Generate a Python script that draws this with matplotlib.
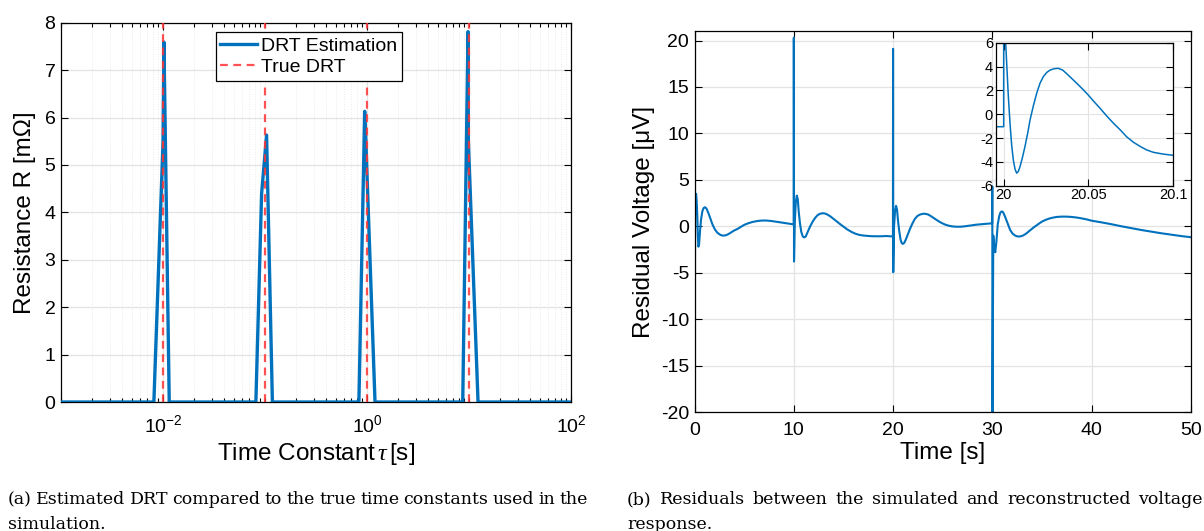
import matplotlib
matplotlib.use("Agg")
import matplotlib.pyplot as plt
from matplotlib.ticker import LogLocator, NullFormatter

plt.rcParams['font.family'] = ['Liberation Sans', 'DejaVu Sans']
plt.rcParams['mathtext.fontset'] = 'custom'
plt.rcParams['mathtext.rm'] = 'Liberation Sans'
plt.rcParams['mathtext.it'] = 'Liberation Serif:italic'
plt.rcParams['axes.unicode_minus'] = False

# DRT estimate (time constant in s, resistance in mOhm)
drt_tau = [1e-3, 0.00813, 0.0100, 0.0102, 0.0115,
           0.0813, 0.0925, 0.1035, 0.118,
           0.832, 0.948, 0.977, 1.197,
           8.67, 9.77, 9.85, 12.25, 100]
drt_r = [0, 0, 5.5, 7.59, 0,
         0, 4.39, 5.63, 0,
         0, 6.13, 5.4, 0,
         0, 7.81, 5.5, 0, 0]
true_tau = [0.01, 0.1, 1, 10]

# residual voltage (time in s, residual in uV)
res_t = [0.0, 0.01, 0.05, 0.1, 0.15, 0.2, 0.27, 0.33, 0.38, 0.45, 0.55, 0.65, 0.78, 0.9, 1.05,
         1.2, 1.4, 1.6, 1.8, 2.05, 2.3, 2.6, 2.8, 3.0, 3.2, 3.4, 3.7, 4.0, 4.3, 4.7, 5.0,
         5.4, 5.8, 6.2, 6.6, 7.0, 7.3, 7.7, 8.0, 8.4, 8.8, 9.2, 9.5, 9.99,
         10.0, 10.02, 10.1, 10.2, 10.3, 10.4, 10.5, 10.62, 10.75, 10.9, 11.05, 11.2, 11.4, 11.65,
         11.9, 12.15, 12.4, 12.65, 12.9, 13.15, 13.4, 13.7, 14.0, 14.35, 14.7, 15.05,
         15.4, 15.8, 16.2, 16.6, 17.0, 17.4, 17.8, 18.2, 18.6, 19.0, 19.3, 19.65, 19.99,
         20.0, 20.02, 20.1, 20.2, 20.3, 20.4, 20.5, 20.62, 20.75, 20.87, 20.98, 21.12, 21.3,
         21.5, 21.7, 21.95, 22.2, 22.45, 22.7, 22.95, 23.2, 23.5, 23.8, 24.15, 24.5, 24.85,
         25.2, 25.6, 26.0, 26.4, 26.8, 27.2, 27.6, 28.0, 28.4, 28.8, 29.2, 29.6, 29.99,
         30.0, 30.02, 30.1, 30.2, 30.3, 30.42, 30.55, 30.7, 30.83, 30.96, 31.1, 31.3, 31.55,
         31.8, 32.05, 32.3, 32.55, 32.8, 33.1, 33.4, 33.8, 34.2, 34.6, 35.0, 35.4, 35.8,
         36.2, 36.5, 36.85, 37.2, 37.6, 38.0, 38.5, 39.0, 39.5, 40.0, 41.0, 42.0, 43.0, 44.0,
         45.0, 46.0, 47.0, 48.0, 49.0, 50.0]
res_v = [5.0, -20.0, 1.0, 2.8, 3.5, 2.9, 1.2, -1.0, -2.2, -2.0, -0.5, 0.7, 1.6, 1.95, 2.05,
         1.9, 1.4, 0.8, 0.2, -0.35, -0.7, -0.93, -1.0, -1.0, -0.95, -0.85, -0.65, -0.45,
         -0.3, -0.05, 0.15,
         0.32, 0.45, 0.54, 0.6, 0.62, 0.61, 0.57, 0.52, 0.46, 0.4, 0.33, 0.28, 0.2,
         20.3, -3.8, 0.5, 2.6, 3.3, 2.9, 1.5, 0.3, -0.6, -1.1, -1.2, -1.1, -0.6, 0.0,
         0.5, 0.9, 1.2, 1.35, 1.4, 1.37, 1.25, 1.05, 0.8, 0.5, 0.2, -0.08,
         -0.35, -0.6, -0.8, -0.93, -1.0, -1.04, -1.07, -1.08, -1.08, -1.07, -1.05, -1.07, -1.1,
         19.1, -4.95, 0.0, 1.6, 2.2, 1.8, 0.6, -0.5, -1.4, -1.8, -1.9, -1.8, -1.4,
         -0.85, -0.3, 0.3, 0.8, 1.1, 1.25, 1.33, 1.35, 1.28, 1.1, 0.85, 0.6, 0.38,
         0.2, 0.06, -0.02, -0.05, -0.05, -0.01, 0.05, 0.11, 0.17, 0.21, 0.25, 0.29, 0.32,
         4.3, -20.0, -1.0, -2.2, -2.8, -1.6, 0.2, 1.1, 1.5, 1.6, 1.5, 1.0, 0.3,
         -0.4, -0.8, -1.0, -1.1, -1.1, -1.0, -0.8, -0.45, -0.1, 0.2, 0.5, 0.7, 0.85,
         0.95, 1.0, 1.03, 1.04, 1.03, 1.0, 0.94, 0.85, 0.74, 0.6, 0.42, 0.22, 0.0, -0.2,
         -0.4, -0.58, -0.75, -0.9, -1.05, -1.18]

# zoom around t = 20 s
zoom_t = [19.995, 20.0, 20.0, 20.0003, 20.00118, 20.00177, 20.00276, 20.00374, 20.00472,
          20.00571, 20.00669, 20.00768, 20.00866, 20.00965, 20.01122, 20.0126, 20.01417,
          20.01555, 20.01752, 20.01949, 20.02146, 20.02343, 20.0254, 20.02736, 20.02992,
          20.03228, 20.03484, 20.0372, 20.04016, 20.04311, 20.04665, 20.05, 20.05335,
          20.05689, 20.06083, 20.06476, 20.0687, 20.07264, 20.07657, 20.08051, 20.08445,
          20.08839, 20.09429, 20.1]
zoom_v = [-1.05, -1.05, 12.0, 12.0, 6.0, 4.3, 1.5, -0.75, -2.6,
          -3.85, -4.6, -4.95, -4.8, -4.4, -3.55, -2.7, -1.6,
          -0.5, 0.7, 1.75, 2.6, 3.15, 3.5, 3.7, 3.82,
          3.85, 3.7, 3.4, 3.0, 2.6, 2.1, 1.6, 1.05,
          0.5, -0.15, -0.75, -1.3, -1.9, -2.35, -2.7, -3.0,
          -3.2, -3.35, -3.45]

blue = '#0072BD'
grid_c = '#e3e3e3'

fig = plt.figure(figsize=(12.04, 5.31), dpi=100)


def matlab_style(ax, size=14, pad=4):
    ax.tick_params(which='both', direction='in', top=True, right=True, labelsize=size,
                   colors='black', width=0.8, pad=pad)
    ax.tick_params(which='major', length=5)
    ax.tick_params(which='minor', length=3)
    for s in ax.spines.values():
        s.set_linewidth(0.9)


# (a) DRT
ax1 = fig.add_axes([0.0507, 0.2429, 0.4236, 0.7144])
ax1.plot(drt_tau, drt_r, color=blue, lw=2.4, label='DRT Estimation', zorder=3)
for i, tt in enumerate(true_tau):
    ax1.plot([tt, tt], [0, 8], color='#ff3333', lw=1.6, ls=(0, (3.5, 2.5)), alpha=0.85,
             label='True DRT' if i == 0 else None, zorder=4)
ax1.set_xscale('log')
ax1.set_xlim(1e-3, 1e2)
ax1.set_ylim(0, 8)
ax1.set_xticks([1e-2, 1e0, 1e2])
ax1.xaxis.set_minor_locator(LogLocator(base=10, subs=range(1, 10), numticks=30))
ax1.xaxis.set_minor_formatter(NullFormatter())
ax1.set_yticks(range(0, 9))
ax1.grid(True, which='major', color=grid_c, lw=0.9)
ax1.grid(True, which='minor', axis='x', color='#e4e4e4', lw=0.6, ls=(0, (1, 2)))
matlab_style(ax1, 14)
ax1.tick_params(axis='x', pad=9)
ax1.set_xlabel(r'Time Constant$\,\tau\,$[s]', fontsize=17.5, labelpad=3)
ax1.set_ylabel('Resistance R [m\u03a9]', fontsize=17.5, labelpad=6)
leg = ax1.legend(loc='upper center', bbox_to_anchor=(0.486, 0.985), fontsize=14, frameon=True,
                 fancybox=False, edgecolor='black', framealpha=1, handlelength=1.9,
                 borderpad=0.25, labelspacing=0.2, handletextpad=0.2, borderaxespad=0.2)
leg.get_frame().set_linewidth(0.9)

# (b) residuals
ax2 = fig.add_axes([0.5769, 0.2241, 0.4121, 0.7171])
ax2.plot(res_t, res_v, color=blue, lw=1.5)
ax2.set_xlim(0, 50)
ax2.set_ylim(-20, 21)
ax2.set_xticks(range(0, 51, 10))
ax2.set_yticks(range(-20, 21, 5))
ax2.grid(True, color=grid_c, lw=0.9)
matlab_style(ax2, 14)
ax2.tick_params(axis='x', pad=7)
ax2.set_xlabel('Time [s]', fontsize=17.5, labelpad=2)
ax2.set_ylabel('Residual Voltage [\u03bcV]', fontsize=17.5, labelpad=4)

# inset
ax3 = fig.add_axes([0.8270, 0.6503, 0.1473, 0.2693])
ax3.plot(zoom_t, zoom_v, color=blue, lw=1.1)
ax3.set_xlim(19.9953, 20.1)
ax3.set_ylim(-6, 6)
ax3.set_xticks([20, 20.05, 20.1])
ax3.set_xticklabels(['20', '20.05', '20.1'])
ax3.set_yticks(range(-6, 7, 2))
ax3.grid(True, color=grid_c, lw=0.8)
matlab_style(ax3, 10.5, pad=2)


# captions, justified like the paper
def caption(words, x0, x1, y):
    texts = [fig.text(x0, y, w, family='DejaVu Serif', fontsize=12.5, va='baseline')
             for w in words]
    fig.canvas.draw()
    r = fig.canvas.get_renderer()
    widths = [t.get_window_extent(r).width / fig.bbox.width for t in texts]
    gap = (x1 - x0 - sum(widths)) / (len(words) - 1)
    x = x0
    for t, w in zip(texts, widths):
        t.set_x(x)
        x += w + gap


caption('(a) Estimated DRT compared to the true time constants used in the'.split(),
        8 / 1204, 588 / 1204, 1 - 504 / 531)
fig.text(8 / 1204, 1 - 529 / 531, 'simulation.', family='DejaVu Serif', fontsize=12.5,
         va='baseline')
caption('(b) Residuals between the simulated and reconstructed voltage'.split(),
        627 / 1204, 1203 / 1204, 1 - 504 / 531)
fig.text(627 / 1204, 1 - 529 / 531, 'response.', family='DejaVu Serif', fontsize=12.5,
         va='baseline')

fig.savefig('out.png', dpi=100)
